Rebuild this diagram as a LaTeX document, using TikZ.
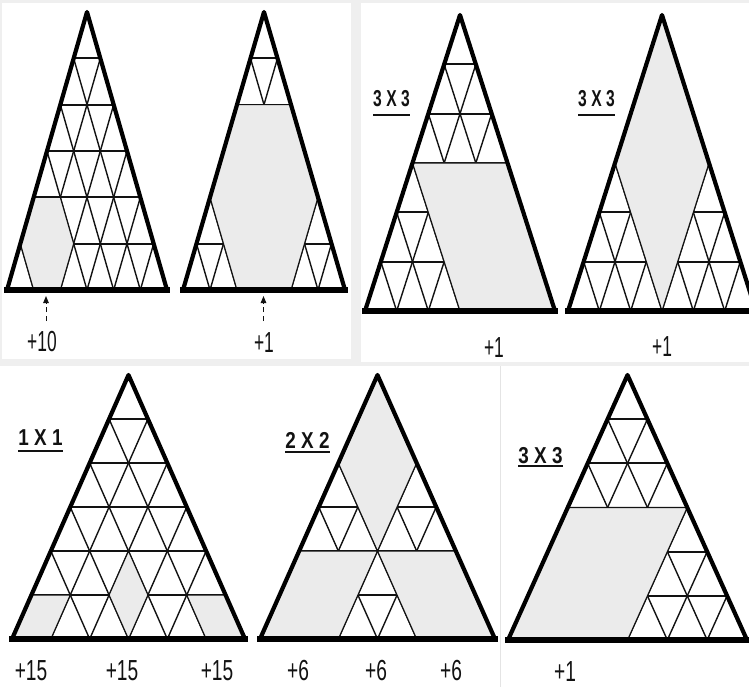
\documentclass[tikz,border=0pt]{standalone}
\usepackage{fontspec}
\setmainfont{Liberation Sans}
\usetikzlibrary{arrows.meta}
\definecolor{shadegray}{RGB}{235,235,235}
\definecolor{bggray}{RGB}{239,239,239}
\definecolor{divgray}{RGB}{228,228,228}
\definecolor{lineink}{RGB}{18,18,18}
\tikzset{
  gridh/.style={line width=2pt, draw=lineink},
  gridd/.style={line width=1.4pt, draw=lineink},
  shaded/.style={fill=shadegray, draw=lineink, line width=1.1pt, line join=round},
  outline/.style={draw=black, line width=4.2pt, line join=round},
  basebar/.style={draw=black, line width=5.5pt, line cap=rect},
  count/.style={font=\fontsize{29}{29}\selectfont, inner sep=0pt, text=lineink},
  mult/.style={font=\bfseries\fontsize{23}{23}\selectfont, inner sep=0pt, text=lineink},
  uline/.style={line width=2.6pt, draw=lineink},
  cue/.style={line width=1pt, draw=lineink, dash pattern=on 5pt off 4pt, -{Triangle[length=7pt,width=5.5pt]}}
}
% #1 apex x, #2 apex y, #3 base y, #4 half width, #5 shaded polygons
\newcommand\tri[5]{%
  \pgfmathsetmacro\trH{(#3-#2)/6}%
  \pgfmathsetmacro\trS{#4/3}%
  \pgfmathsetmacro\trT{#4/6}%
  \begin{scope}[shift={(#1,#2)}, x={(\trS pt,0pt)}, y={(-\trT pt,-\trH pt)}]
    \foreach \r in {1,...,5} {\draw[gridh] (0,\r) -- (\r,\r);}
    \foreach \k in {1,...,5} {\draw[gridd] (\k,\k) -- (\k,6); \draw[gridd] (0,\k) -- (6-\k,6);}
    \filldraw[shaded] #5;
    \draw[outline] (0,0) -- (6,6) -- (0,6) -- cycle;
    \draw[basebar] (0,6) -- (6,6);
  \end{scope}}
\begin{document}
\begin{tikzpicture}[x=1pt,y=-1pt]
\clip (0,0) rectangle (749,687);
% panels
\fill[bggray] (0,0) rectangle (749,687);
\fill[white] (2,3) rectangle (351,359);
\fill[white] (361,3) rectangle (749,362);
\fill[white] (0,366) rectangle (749,687);
\draw[divgray, line width=1pt] (500.5,366) -- (500.5,687);

% top-left panel
\tri{87}{12}{290}{80}{(0,4) -- (1,4) -- (2,5) -- (2,6) -- (1,6) -- (0,5) -- cycle}
\tri{264}{12}{290}{81}{(0,2) -- (2,2) -- (4,4) -- (4,6) -- (2,6) -- (0,4) -- cycle}
\coordinate (a1s) at (46,321); \coordinate (a1e) at (46,296);
\draw[cue] (a1s) -- (a1e);
\coordinate (a2s) at (263.5,321); \coordinate (a2e) at (263.5,296);
\draw[cue] (a2s) -- (a2e);
\node[count] (l1) at (42,342) {\scalebox{0.6}[1]{+10}};
\node[count] (l2) at (264,343) {\scalebox{0.6}[1]{+1}};

% top-right panel
\tri{460}{15}{311}{95}{(0,3) -- (3,3) -- (6,6) -- (3,6) -- cycle}
\tri{662}{15}{311}{94}{(0,0) -- (3,3) -- (3,6) -- (0,3) -- cycle}
\node[mult] (m3) at (391.5,99) {\scalebox{0.68}[1]{3 X 3}};
\draw[uline] (373,115) -- (410,115);
\node[mult] (m4) at (596.5,99) {\scalebox{0.68}[1]{3 X 3}};
\draw[uline] (578,115) -- (615,115);
\node[count] (l3) at (494,348) {\scalebox{0.6}[1]{+1}};
\node[count] (l4) at (662,347) {\scalebox{0.6}[1]{+1}};

% bottom panel
\tri{128.5}{375}{639}{116.5}{(0,5) -- (1,5) -- (1,6) -- (0,6) -- cycle
  (2,4) -- (3,5) -- (3,6) -- (2,5) -- cycle
  (4,5) -- (5,5) -- (6,6) -- (5,6) -- cycle}
\tri{377.5}{375}{639}{117.5}{(0,0) -- (2,2) -- (2,4) -- (0,2) -- cycle
  (0,4) -- (2,4) -- (2,6) -- (0,6) -- cycle
  (2,4) -- (4,4) -- (6,6) -- (4,6) -- cycle}
\tri{627.5}{375}{640}{119.5}{(0,3) -- (3,3) -- (3,6) -- (0,6) -- cycle}
\node[mult] (m5) at (40.5,437.5) {\scalebox{0.82}[1]{1 X 1}};
\draw[uline] (18,451) -- (63,451);
\node[mult] (m6) at (307.5,440) {\scalebox{0.82}[1]{2 X 2}};
\draw[uline] (285,452) -- (330,452);
\node[mult] (m7) at (540.5,455.5) {\scalebox{0.82}[1]{3 X 3}};
\draw[uline] (518,466) -- (563,466);
\node[count] (l5a) at (31,671) {\scalebox{0.66}[1]{+15}};
\node[count] (l5b) at (122,671) {\scalebox{0.66}[1]{+15}};
\node[count] (l5c) at (217,671) {\scalebox{0.66}[1]{+15}};
\node[count] (l6a) at (298,671) {\scalebox{0.66}[1]{+6}};
\node[count] (l6b) at (376,671) {\scalebox{0.66}[1]{+6}};
\node[count] (l6c) at (451,671) {\scalebox{0.66}[1]{+6}};
\node[count] (l7) at (565,672) {\scalebox{0.66}[1]{+1}};
\end{tikzpicture}
\end{document}
